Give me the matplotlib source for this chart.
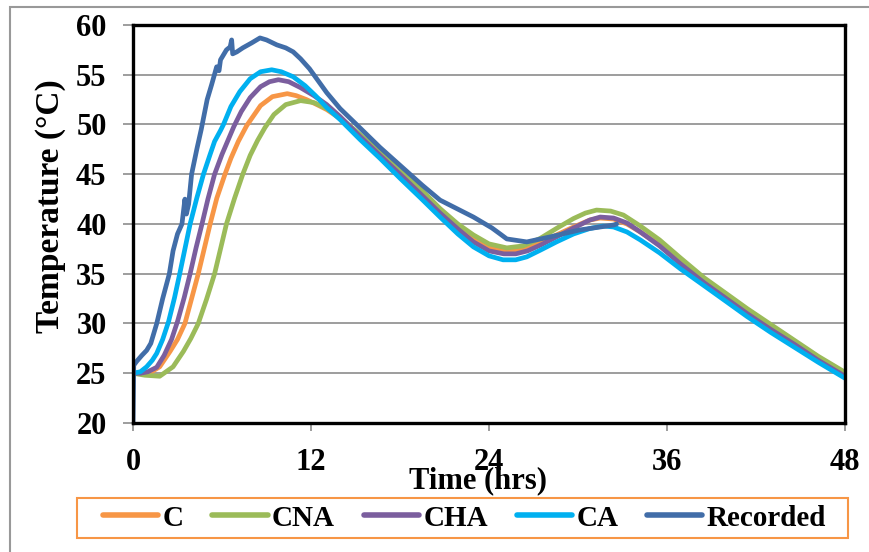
import matplotlib.pyplot as plt
from matplotlib.patches import Rectangle

plt.rcParams['font.family'] = ['Liberation Serif', 'DejaVu Serif']
plt.rcParams['font.weight'] = 'bold'

# 模拟曲线 (时间 hrs, 温度 °C)
c_t = [0, 0.6, 1.2, 1.8, 2.5, 3.0, 3.5, 3.95, 4.4, 4.8, 5.2, 5.65, 6.2, 6.6, 7.1, 7.67,
       8.6, 9.4, 10.4, 11.0, 11.7, 12.4, 13.06, 13.96, 15.3, 16.65, 18.0, 19.4, 20.7,
       21.9, 22.95, 24.0, 25.0, 25.8, 26.6, 27.5, 28.55, 29.7, 30.8, 31.5, 32.4, 33.3,
       34.2, 35.5, 36.9, 38.5, 40.0, 41.4, 43.0, 44.6, 46.2, 48.0]
c_T = [25.0, 25.0, 25.1, 25.65, 27.2, 28.4, 30.0, 32.5, 35.0, 37.5, 40.0, 42.6, 45.0, 46.6,
       48.3, 49.9, 51.9, 52.8, 53.1, 52.9, 52.5, 52.0, 51.5, 50.6, 48.8, 46.9, 45.0, 43.0,
       41.2, 39.7, 38.5, 37.6, 37.3, 37.3, 37.6, 38.1, 38.9, 39.7, 40.4, 40.6, 40.5, 40.0,
       39.2, 37.9, 36.1, 34.2, 32.6, 31.1, 29.5, 27.9, 26.4, 24.8]

cna_t = [0, 0.8, 1.8, 2.7, 3.4, 3.9, 4.4, 4.95, 5.5, 5.9, 6.3, 6.85, 7.4, 7.9, 8.4, 8.9,
         9.5, 10.3, 11.3, 12.2, 13.06, 13.96, 15.3, 16.65, 18.0, 19.4, 20.7, 21.9, 22.95,
         24.0, 25.2, 26.3, 27.45, 28.6, 29.7, 30.5, 31.25, 32.2, 33.06, 34.2, 35.5, 36.9,
         38.5, 40.0, 41.4, 43.0, 44.6, 46.2, 48.0]
cna_T = [25.0, 24.8, 24.7, 25.65, 27.2, 28.5, 30.0, 32.4, 35.0, 37.5, 40.0, 42.6, 45.0,
         46.9, 48.4, 49.7, 51.0, 52.0, 52.4, 52.2, 51.6, 50.7, 49.0, 47.2, 45.4, 43.5,
         41.55, 40.0, 38.9, 38.0, 37.6, 37.8, 38.55, 39.6, 40.55, 41.1, 41.4, 41.3, 40.9,
         39.8, 38.4, 36.6, 34.6, 33.0, 31.5, 29.9, 28.3, 26.7, 25.1]

cha_t = [0, 0.5, 1.0, 1.6, 2.1, 2.6, 3.0, 3.45, 3.85, 4.25, 4.65, 5.05, 5.5, 6.0, 6.4, 6.8,
         7.3, 7.9, 8.6, 9.2, 9.8, 10.5, 11.3, 12.2, 13.06, 13.96, 15.3, 16.65, 18.0, 19.4,
         20.7, 21.9, 22.95, 24.0, 25.0, 25.8, 26.6, 27.5, 28.55, 29.7, 30.8, 31.5, 32.4,
         33.3, 34.2, 35.5, 36.9, 38.5, 40.0, 41.4, 43.0, 44.6, 46.2, 48.0]
cha_T = [25.0, 25.0, 25.15, 25.6, 26.8, 28.4, 30.2, 32.6, 35.0, 37.6, 40.0, 42.5, 45.0,
         47.0, 48.4, 49.8, 51.3, 52.7, 53.8, 54.3, 54.5, 54.3, 53.7, 52.9, 52.0, 50.8,
         48.8, 46.9, 45.0, 43.0, 41.1, 39.5, 38.2, 37.3, 37.0, 37.0, 37.3, 37.9, 38.7,
         39.6, 40.4, 40.7, 40.6, 40.1, 39.2, 37.8, 36.0, 34.1, 32.5, 31.0, 29.4, 27.9,
         26.3, 24.7]

ca_t = [0, 0.5, 0.92, 1.3, 1.6, 2.0, 2.4, 2.8, 3.15, 3.5, 3.85, 4.3, 4.75, 5.2, 5.5, 5.9,
        6.1, 6.6, 7.2, 7.9, 8.6, 9.35, 10.0, 10.8, 11.6, 12.3, 13.06, 13.96, 15.3, 16.65,
        18.0, 19.4, 20.7, 21.9, 22.95, 24.0, 24.95, 25.8, 26.55, 27.5, 28.55, 29.7, 30.8,
        31.7, 32.4, 33.3, 34.2, 35.5, 36.9, 38.5, 40.0, 41.4, 43.0, 44.6, 46.2, 48.0]
ca_T = [25.0, 25.15, 25.65, 26.3, 27.0, 28.4, 30.2, 32.6, 35.0, 37.5, 40.0, 42.6, 45.0,
        47.0, 48.3, 49.4, 50.0, 51.8, 53.3, 54.6, 55.3, 55.5, 55.3, 54.8, 53.9, 52.9,
        51.7, 50.5, 48.5, 46.6, 44.6, 42.6, 40.7, 39.0, 37.7, 36.8, 36.4, 36.4, 36.7,
        37.4, 38.2, 39.0, 39.55, 39.8, 39.7, 39.2, 38.4, 37.1, 35.5, 33.8, 32.2, 30.7,
        29.1, 27.6, 26.1, 24.5]

# 实测曲线
rec_t = [0, 0.05, 0.25, 0.6, 0.92, 1.2, 1.6, 2.0, 2.45, 2.7, 3.0, 3.3, 3.5, 3.6, 3.75,
         3.95, 4.3, 4.6, 5.0, 5.3, 5.64, 5.8, 5.9, 6.3, 6.55, 6.65, 6.72, 7.0, 7.4, 8.0,
         8.56, 9.0, 9.7, 10.3, 10.8, 11.3, 11.9, 13.06, 13.96, 15.0, 16.65, 18.0, 19.5,
         20.7, 22.95, 24.2, 24.75, 25.2, 26.55, 28.1, 30.1, 31.5, 32.4, 32.6]
rec_T = [20.0, 25.8, 26.2, 26.8, 27.3, 28.0, 30.0, 32.5, 35.0, 37.3, 39.0, 40.0, 42.5,
         41.0, 42.0, 45.0, 47.5, 49.5, 52.5, 54.0, 55.8, 55.4, 56.5, 57.5, 57.8, 58.5,
         57.1, 57.3, 57.7, 58.2, 58.7, 58.5, 58.0, 57.7, 57.3, 56.6, 55.6, 53.2, 51.6,
         50.1, 47.7, 45.9, 43.9, 42.4, 40.7, 39.6, 39.0, 38.5, 38.2, 38.7, 39.4, 39.7,
         39.9, 40.0]

series = [
    ('C', c_t, c_T, '#F79646'),
    ('CNA', cna_t, cna_T, '#9BBB59'),
    ('CHA', cha_t, cha_T, '#7B5E9E'),
    ('CA', ca_t, ca_T, '#00B0F0'),
    ('Recorded', rec_t, rec_T, '#416DA8'),
]

fig = plt.figure(figsize=(8.69, 5.52), dpi=100)
ax = fig.add_axes([133/869, 1 - 423/552, (845 - 133)/869, (423 - 25)/552])

for name, t, T, col in series:
    ax.plot(t, T, color=col, lw=3.4, label=name, solid_capstyle='round',
            solid_joinstyle='round')

ax.set_xlim(0, 48)
ax.set_ylim(20, 60)
ax.set_xticks([0, 12, 24, 36, 48])
ax.set_yticks(range(20, 61, 5))
ax.grid(axis='y', color='#8C8C8C', lw=1.2)
ax.set_axisbelow(True)
for s in ax.spines.values():
    s.set_color('black')
    s.set_linewidth(2.4)
ax.tick_params(axis='both', direction='out', color='#8C8C8C', width=1.2,
               labelsize=22)
ax.tick_params(axis='y', length=7, pad=12)
ax.tick_params(axis='x', length=6, pad=12)
for lab in ax.get_xticklabels() + ax.get_yticklabels():
    lab.set_fontweight('bold')

fig.text(478/869, 1 - 481/552, 'Time (hrs)', ha='center', va='center',
         fontsize=22, fontweight='bold')
fig.text(50/869, 1 - 206/552, 'Temperature (°C)', ha='center', va='center',
         rotation=90, fontsize=24, fontweight='bold')

# 图例（边框单独画）
leg = fig.legend(loc='center', ncol=5, mode='expand',
                 bbox_to_anchor=(97/869, 1 - 538/552, 735/869, 40/552),
                 prop={'size': 21, 'weight': 'bold'}, frameon=False,
                 handlelength=1.9, handletextpad=0.15, columnspacing=0.9,
                 borderpad=0.2, borderaxespad=0)
for h in leg.get_lines():
    h.set_linewidth(4)
fig.patches.append(Rectangle((77/869, 1 - 538/552), 771/869, 40/552,
                             transform=fig.transFigure, fill=False,
                             edgecolor='#F79646', lw=1.5, figure=fig))

# 外框
fig.patches.append(Rectangle((10/869, -0.5), 2, 1.5 - 7/552, transform=fig.transFigure,
                             fill=False, edgecolor='#999999', lw=1.5, figure=fig))

fig.savefig('out.png', dpi=100)
